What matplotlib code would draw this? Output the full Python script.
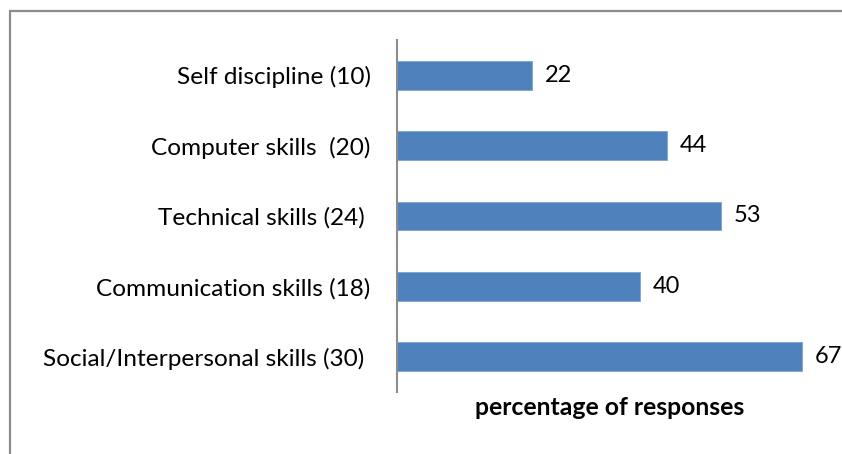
import matplotlib
matplotlib.use("Agg")
import matplotlib.pyplot as plt
from matplotlib.patches import Rectangle

# skills, listed bottom to top, with number of responses
skills = ["Social/Interpersonal skills (30) ", "Communication skills (18)",
          "Technical skills (24) ", "Computer skills  (20)", "Self discipline (10)"]
percent = [66.7, 40.0, 53.3, 44.4, 22.2]
labels = ["67", "40", "53", "44", "22"]

plt.rcParams['font.family'] = ['Lato', 'DejaVu Sans']

fig = plt.figure(figsize=(8.42, 4.54), dpi=100)
ax = fig.add_axes([397 / 842, 1 - 392 / 454, 425 / 842, 352 / 454])

pos = range(len(skills))
ax.barh(pos, percent, height=0.41, color='#4F81BD', edgecolor='#7aa3d4', linewidth=0.6)
for p, v, t in zip(pos, percent, labels):
    ax.text(v + 2.1, p, t, va='center', ha='left', fontsize=17, clip_on=False)

ax.set_xlim(0, 70)
ax.set_ylim(-0.5, 4.5)
ax.set_yticks(list(pos))
ax.set_yticklabels(skills, fontsize=17.6)
ax.tick_params(axis='y', length=0, pad=19)
ax.set_xticks([])
ax.set_xlabel('percentage of responses', fontsize=17.8, fontweight='bold', labelpad=3)
for s in ['top', 'right', 'bottom']:
    ax.spines[s].set_visible(False)
ax.spines['left'].set_color('#8c8c8c')
ax.spines['left'].set_linewidth(1.5)

# outer chart frame
fig.patches.append(Rectangle((10 / 842, -0.2), 1.2, 1.2 - 11 / 454, transform=fig.transFigure,
                             fill=False, edgecolor='#8c8c8c', linewidth=1.6))

fig.savefig('out.png', dpi=100)
